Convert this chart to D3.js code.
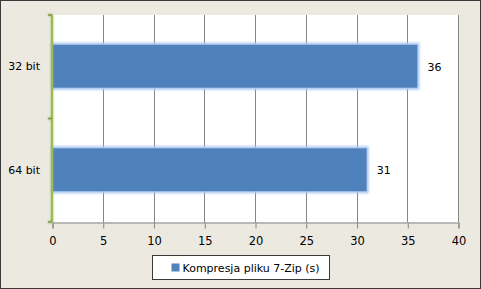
<!DOCTYPE html>
<html>
<head>
<meta charset="utf-8">
<script src="https://cdn.jsdelivr.net/npm/d3@7"></script>
<style>
  body { margin: 0; background: #ECE9E0; }
  svg { display: block; }
  text { font-family: "DejaVu Sans", Verdana, sans-serif; font-size: 11px; fill: #000; }
</style>
</head>
<body>
<script>
var categories = ['32 bit', '64 bit'];
var values = [36, 31];
var xTicks = [0, 5, 10, 15, 20, 25, 30, 35, 40];
var seriesName = 'Kompresja pliku 7-Zip (s)';

var width = 481, height = 289;
var plotLeft = 52, plotRight = 458, plotTop = 15, plotBottom = 222;

var svg = d3.select('body').append('svg')
    .attr('width', width)
    .attr('height', height);

// tlo i ramka
svg.append('rect')
    .attr('x', 0.5).attr('y', 0.5)
    .attr('width', width - 1).attr('height', height - 1)
    .attr('fill', '#ECE9E0')
    .attr('stroke', '#3a3a3a');

var defs = svg.append('defs');
var glow = defs.append('filter').attr('id', 'glow')
    .attr('x', '-10%').attr('y', '-20%').attr('width', '120%').attr('height', '140%');
glow.append('feMorphology').attr('in', 'SourceAlpha').attr('operator', 'dilate').attr('radius', 2).attr('result', 'd');
glow.append('feGaussianBlur').attr('in', 'd').attr('stdDeviation', 1.2).attr('result', 'b');
glow.append('feFlood').attr('flood-color', '#a9c8f0');
glow.append('feComposite').attr('in2', 'b').attr('operator', 'in').attr('result', 'g');
var m = glow.append('feMerge');
m.append('feMergeNode').attr('in', 'g');
m.append('feMergeNode').attr('in', 'SourceGraphic');

var gglow = defs.append('filter').attr('id', 'gglow')
    .attr('x', '-300%').attr('y', '-5%').attr('width', '700%').attr('height', '110%');
gglow.append('feGaussianBlur').attr('in', 'SourceGraphic').attr('stdDeviation', 1.2).attr('result', 'b');
var m2 = gglow.append('feMerge');
m2.append('feMergeNode').attr('in', 'b');
m2.append('feMergeNode').attr('in', 'SourceGraphic');

// obszar wykresu
svg.append('rect')
    .attr('x', plotLeft).attr('y', plotTop)
    .attr('width', plotRight - plotLeft).attr('height', plotBottom - plotTop)
    .attr('fill', '#fff');

var xScale = d3.scaleLinear().domain([0, 40]).range([plotLeft, plotRight]);
var yScale = d3.scaleBand().domain(categories).range([plotTop, plotBottom]).paddingInner(0).paddingOuter(0);

// siatka
svg.append('g')
    .selectAll('line')
    .data(xTicks.slice(1))
    .enter().append('line')
    .attr('x1', function(d){ return Math.round(xScale(d)) + 0.5; })
    .attr('x2', function(d){ return Math.round(xScale(d)) + 0.5; })
    .attr('y1', plotTop).attr('y2', plotBottom)
    .attr('stroke', '#868686');

// os X
var xAxis = d3.axisBottom(xScale).tickValues(xTicks).tickSize(6).tickPadding(8);
var gx = svg.append('g')
    .attr('transform', 'translate(0.5,' + (plotBottom + 0.5) + ')')
    .call(xAxis);
gx.select('.domain').attr('stroke', '#868686');
gx.selectAll('.tick line').attr('stroke', '#868686');
gx.selectAll('text').style('font-size', '11.5px');

// slupki
var barH = 43;
svg.selectAll('rect.bar')
    .data(values)
    .enter().append('rect')
    .attr('class', 'bar')
    .attr('x', xScale(0) + 1)
    .attr('y', function(d, i){ return yScale(categories[i]) + yScale.bandwidth() / 2 - barH / 2 - 0.5; })
    .attr('width', function(d){ return xScale(d) - xScale(0) - 1; })
    .attr('height', barH)
    .attr('fill', '#4F81BD')
    .attr('filter', 'url(#glow)');

// etykiety wartosci
svg.selectAll('text.val')
    .data(values)
    .enter().append('text')
    .attr('class', 'val')
    .attr('x', function(d){ return xScale(d) + 10; })
    .attr('y', function(d, i){ return yScale(categories[i]) + yScale.bandwidth() / 2 + 4; })
    .text(function(d){ return d; });

// os Y
var yAxis = d3.axisLeft(yScale).tickSize(0).tickPadding(12);
var gy = svg.append('g')
    .attr('transform', 'translate(' + plotLeft + ',0)')
    .call(yAxis);
gy.select('.domain').remove();
gy.selectAll('text').style('font-size', '11px');

var gl = svg.append('g').attr('filter', 'url(#gglow)');
gl.append('line')
    .attr('x1', plotLeft).attr('x2', plotLeft)
    .attr('y1', plotTop).attr('y2', plotBottom)
    .attr('stroke', '#9BBB59').attr('stroke-width', 2);
gl.selectAll('line.tk')
    .data([plotTop, plotTop + yScale.bandwidth(), plotBottom])
    .enter().append('line')
    .attr('class', 'tk')
    .attr('x1', plotLeft - 4).attr('x2', plotLeft)
    .attr('y1', function(d){ return d; })
    .attr('y2', function(d){ return d; })
    .attr('stroke', '#7f9a3f').attr('stroke-width', 1.5);

// legenda
var lg = svg.append('g').attr('transform', 'translate(152.5,255.5)');
lg.append('rect')
    .attr('width', 177).attr('height', 24)
    .attr('fill', '#fff').attr('stroke', '#3a3a3a');
lg.append('rect')
    .attr('x', 19).attr('y', 8).attr('width', 8).attr('height', 8)
    .attr('fill', '#4F81BD');
lg.append('text')
    .attr('x', 30).attr('y', 16)
    .text(seriesName);
</script>
</body>
</html>
